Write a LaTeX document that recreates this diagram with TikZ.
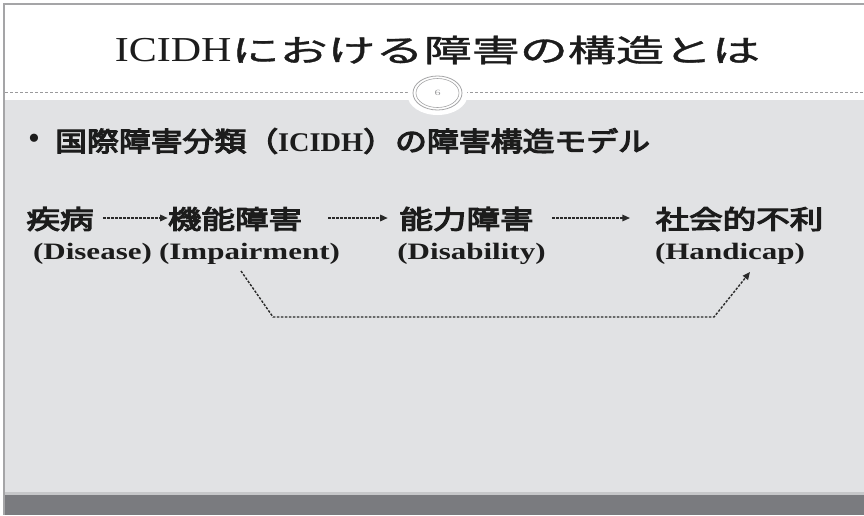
\documentclass[tikz,border=0pt]{standalone}
\usepackage{fontspec}
\usepackage{graphicx}
\setmainfont{Liberation Serif}
\newfontfamily\jp{Noto Sans CJK JP}
\newfontfamily\jpt[FakeBold=1]{Noto Sans CJK JP}
\newfontfamily\jpb[FakeBold=4]{Noto Sans CJK JP}
\usetikzlibrary{arrows.meta,calc}
\definecolor{slidegray}{HTML}{E1E2E4}
\definecolor{bardark}{HTML}{7A7B7F}
\definecolor{barlight}{HTML}{C6C7C9}
\definecolor{framegray}{HTML}{A5A5A7}
\definecolor{dotgray}{HTML}{9A9A9C}
\definecolor{txt}{HTML}{1C1C1C}
\definecolor{arr}{HTML}{2A2A2A}
\newcommand\sx[2]{\scalebox{#1}[1]{#2}}
\newcommand\en[1]{{\bfseries\fontsize{23.5}{23.5}\selectfont #1}}
\begin{document}
\begin{tikzpicture}[x=1pt,y=-1pt,
  lbl/.style={inner sep=0pt, text=txt},
  conn/.style={draw=arr, line width=1.4pt, dash pattern=on 2.5pt off 1.5pt,
    -{Triangle[length=7.5pt,width=6.5pt]}},
  rowjp/.style={lbl, font=\jpb\fontsize{26}{26}\selectfont}]
\useasboundingbox (0,0) rectangle (864,515);
% backgrounds
\fill[white] (0,0) rectangle (864,515);
\fill[slidegray] (4,100) rectangle (864,493);
\fill[barlight] (4,492) rectangle (864,495);
\fill[bardark] (4,495) rectangle (864,515);
\draw[framegray, line width=1.5pt] (4,515) -- (4,4) -- (864,4);
% dotted separator
\draw[dotgray, line width=1pt, dash pattern=on 3pt off 2pt] (5,92) -- (864,92);
% page number badge
\fill[white] (437.5,95) ellipse [x radius=30, y radius=20];
\draw[framegray, line width=0.8pt, fill=white] (437.5,93) ellipse [x radius=24.5, y radius=17];
\draw[framegray, line width=0.6pt] (437.5,93) ellipse [x radius=21.5, y radius=14.5];
\node[lbl, text=dotgray] (pg) at (437.5,93) {\sx{1.5}{\fontsize{8}{8}\selectfont 6}};
% title
\node[lbl] (title) at (437.5,50) {\sx{1.2}{\fontsize{35}{35}\selectfont ICIDH}\sx{1.55}{\jpt\fontsize{31}{31}\selectfont における障害の構造とは}};
% bullet line
\node[lbl] (bul) at (34,142) {\fontsize{34}{34}\selectfont •};
\node[lbl, anchor=west] (sub) at (55,141) {\sx{1.18}{\jpb\fontsize{27}{27}\selectfont 国際障害分類（}\sx{1.05}{\bfseries\fontsize{27}{27}\selectfont ICIDH}\sx{1.18}{\jpb\fontsize{27}{27}\selectfont ）の障害構造モデル}};
% row 1
\node[rowjp] (n1) at (60,219) {\sx{1.29}{疾病}};
\node[rowjp] (n2) at (235,219) {\sx{1.29}{機能障害}};
\node[rowjp] (n3) at (466.5,219) {\sx{1.29}{能力障害}};
\node[rowjp] (n4) at (739.5,219) {\sx{1.29}{社会的不利}};
% row 2
\node[lbl] (e1) at (92.5,254) {\sx{1.32}{\en{(Disease)}}};
\node[lbl] (e2) at (249.5,254) {\sx{1.32}{\en{(Impairment)}}};
\node[lbl] (e3) at (471.5,254) {\sx{1.32}{\en{(Disability)}}};
\node[lbl] (e4) at (730,254) {\sx{1.32}{\en{(Handicap)}}};
% arrows
\draw[conn, shorten <=9.5pt] ([yshift=1pt]n1.east) -- ([yshift=1pt]n2.west);
\draw[conn, shorten <=26pt, shorten >=11.5pt] ([yshift=1pt]n2.east) -- ([yshift=1pt]n3.west);
\draw[conn, shorten <=18.5pt, shorten >=25.5pt] ([yshift=1pt]n3.east) -- ([yshift=1pt]n4.west);
\draw[conn] (241,271) coordinate (k0) -- ++(32,46) -- ++(441,0) -- (750,272) coordinate (k1);
\end{tikzpicture}
\end{document}
